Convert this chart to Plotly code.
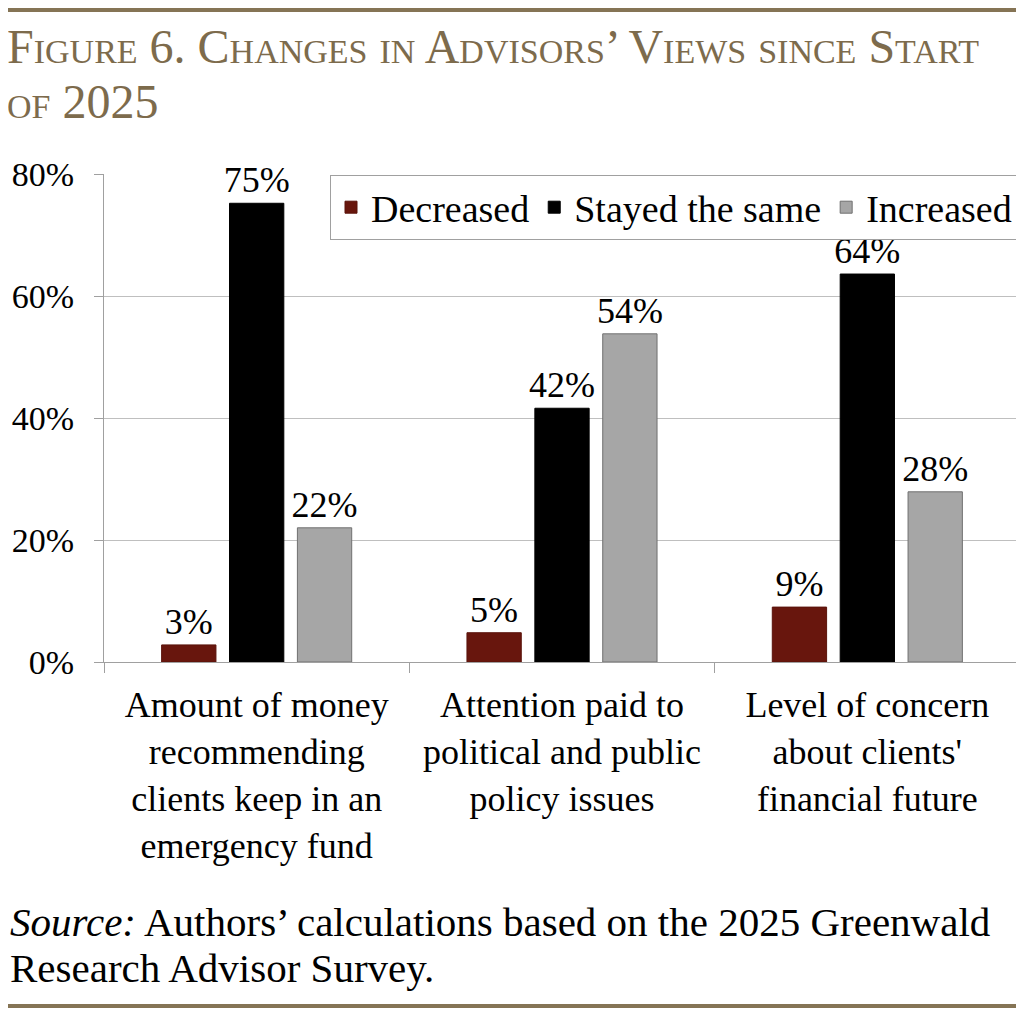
import plotly.graph_objects as go

# categories and values (percent)
categories = [
    "Amount of money<br>recommending<br>clients keep in an<br>emergency fund",
    "Attention paid to<br>political and public<br>policy issues",
    "Level of concern<br>about clients'<br>financial future",
]
decreased = [2.8, 4.8, 9.0]
stayed_same = [75.2, 41.6, 63.6]
increased = [22.0, 53.8, 27.9]
y_ticks = [0, 20, 40, 60, 80]
y_tick_labels = ["0%", "20%", "40%", "60%", "80%"]

# page has an 8px body margin, so the figure is drawn 8px in from the corner
OFF = 8
W, H = 1024 - OFF, 1015 - OFF
L, R, T, B = 102 - OFF, 4, 174 - OFF, 1015 - 662
PW, PH = W - L - R, H - T - B

def px_x(x):
    # screen pixel -> paper coordinate
    return (x - OFF - L) / PW

def px_y(y):
    return (H - B - (y - OFF)) / PH

SERIF = "Liberation Serif, Times New Roman, serif"
GOLD = "#857455"

fig = go.Figure()
series = [
    ("Decreased", decreased, "#68160D", "#5a130b"),
    ("Stayed the same", stayed_same, "#000000", "#000000"),
    ("Increased", increased, "#A6A6A6", "#707070"),
]
for name, vals, col, edge in series:
    fig.add_trace(go.Bar(
        name=name, x=categories, y=vals,
        marker=dict(color=col, line=dict(color=edge, width=1)),
        texttemplate="%{y:.0f}%", textposition="outside",
        textfont=dict(family=SERIF, size=36, color="black"),
        constraintext="none", cliponaxis=False,
    ))

fig.update_layout(
    width=W, height=H,
    margin=dict(l=L, r=R, t=T, b=B),
    paper_bgcolor="white", plot_bgcolor="white",
    font=dict(family=SERIF, color="black"),
    barmode="group", bargap=0.333, bargroupgap=0.2,
    showlegend=True,
    legend=dict(
        orientation="h", x=px_x(1018), xanchor="right", y=px_y(175), yanchor="top",
        bordercolor="#A0A0A0", borderwidth=1, bgcolor="white",
        font=dict(family=SERIF, size=38, color="black"),
        traceorder="normal", itemwidth=30,
    ),
    xaxis=dict(
        showline=True, linecolor="#A0A0A0", linewidth=1,
        ticks="outside", tickson="boundaries", ticklen=10, tickcolor="#A0A0A0",
        tickfont=dict(family=SERIF, size=36, color="black"),
        ticklabelstandoff=11,
        showgrid=False,
    ),
    yaxis=dict(
        range=[0, 80], tickvals=y_ticks, ticktext=y_tick_labels,
        showline=True, linecolor="#A0A0A0", linewidth=1,
        ticks="outside", ticklen=9, tickcolor="#A0A0A0",
        tickfont=dict(family=SERIF, size=34, color="black"),
        ticklabelstandoff=13,
        showgrid=True, gridcolor="#BFBFBF", gridwidth=1, zeroline=False,
    ),
)

# top and bottom rules
for y in (10, 1006):
    fig.add_shape(type="line", xref="paper", yref="paper",
                  x0=px_x(3), x1=px_x(1021), y0=px_y(y), y1=px_y(y),
                  line=dict(color=GOLD, width=4))

title_font = dict(family=SERIF, size=48, color="#7D6B4C", variant="small-caps")
for text, top in (("Figure 6. Changes in Advisors’ Views since Start", 18), ("of 2025", 73)):
    fig.add_annotation(
        xref="paper", yref="paper", x=px_x(3), y=px_y(top), xanchor="left", yanchor="top",
        text=text, showarrow=False, align="left", font=title_font,
    )

source_font = dict(family=SERIF, size=41, color="black")
for text, top in (("<i>Source:</i> Authors’ calculations based on the 2025 Greenwald", 897),
                  ("Research Advisor Survey.", 943)):
    fig.add_annotation(
        xref="paper", yref="paper", x=px_x(6), y=px_y(top), xanchor="left", yanchor="top",
        text=text, showarrow=False, align="left", font=source_font,
    )

fig.write_html("out.html")
